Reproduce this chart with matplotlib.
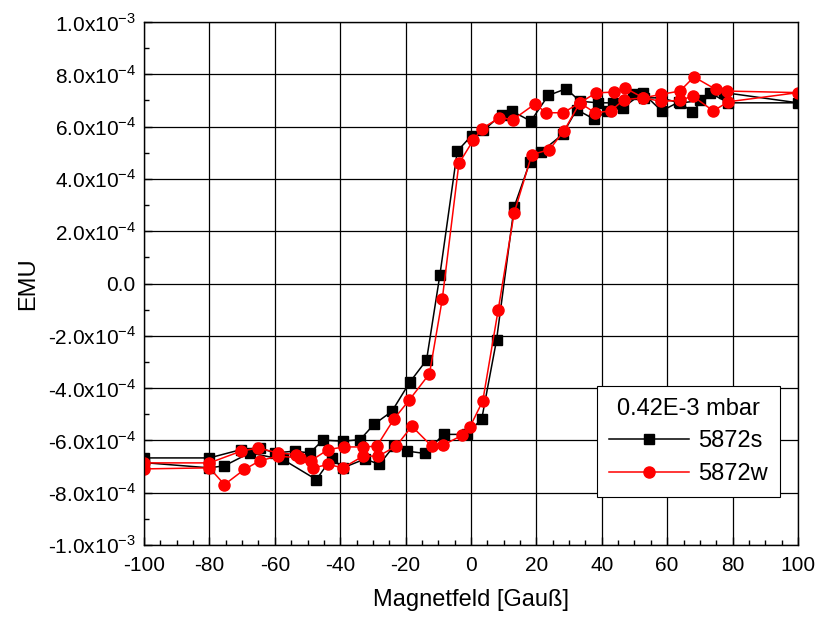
import matplotlib
matplotlib.use('agg')
import matplotlib.pyplot as plt
from matplotlib.ticker import MultipleLocator, FuncFormatter

plt.rcParams['font.family'] = ['Liberation Sans', 'DejaVu Sans']
plt.rcParams['mathtext.fontset'] = 'custom'
plt.rcParams['mathtext.rm'] = 'Liberation Sans'
plt.rcParams['axes.unicode_minus'] = False

# 5872s: lower branch -100 -> 100, then upper branch back to -100 (EMU in 1e-4)
s_x = [-100, -80, -75.4, -67.7, -57.5, -47.3, -42.6, -39.2, -32.4, -28.0, -23.5, -19.5,
       -14.1, -8.4, -1.3, 3.3, 7.8, 13.2, 18.0, 21.3, 28.0, 32.3, 37.6, 42.0, 46.4,
       52.5, 58.3, 63.7, 67.5, 73.1, 78.7, 100,
       77.5, 70.0, 64.0, 58.0, 53.0, 49.6, 43.5, 38.9, 33.3, 29.1, 23.6, 18.3, 12.4,
       9.4, 3.8, 0.2, -4.2, -9.5, -13.6, -18.7, -24.2, -29.7, -33.9, -39.2, -45.3,
       -49.3, -53.9, -60.0, -64.6, -70.3, -80, -100]
s_y = [-6.85, -7.05, -6.97, -6.48, -6.73, -7.50, -6.67, -7.05, -6.71, -6.92, -6.20, -6.41,
       -6.50, -5.77, -5.77, -5.17, -2.17, 2.93, 4.64, 5.02, 5.70, 6.65, 6.29, 6.60, 6.72,
       7.29, 6.60, 6.95, 6.56, 7.29, 6.91, 6.91,
       7.30, 7.00, 6.90, 7.10, 7.10, 7.23, 6.91, 6.91, 6.97, 7.45, 7.19, 6.21, 6.60,
       6.46, 5.86, 5.66, 5.06, 0.34, -2.93, -3.77, -4.89, -5.39, -5.97, -6.03, -5.99,
       -6.48, -6.41, -6.48, -6.29, -6.35, -6.67, -6.67]

# 5872w
w_x = [-100, -80, -75.4, -69.3, -64.6, -59.0, -52.3, -48.3, -43.6, -39.2, -33.0, -28.3,
       -22.9, -18.1, -12.0, -8.7, -2.8, -0.3, 3.6, 8.3, 13.2, 18.6, 24.0, 28.5, 33.3,
       37.9, 42.7, 46.8, 52.7, 58.0, 63.9, 67.8, 74.1, 78.7, 100,
       78.2, 74.9, 68.2, 63.9, 58.0, 52.7, 47.1, 43.7, 38.2, 33.3, 28.2, 22.9, 19.6,
       12.9, 8.7, 3.3, 0.7, -3.7, -8.8, -12.7, -18.9, -23.5, -28.8, -32.9, -38.8,
       -43.7, -49.0, -53.4, -59.0, -65.1, -70.3, -80, -100]
w_y = [-7.09, -7.05, -7.69, -7.11, -6.78, -6.60, -6.67, -7.05, -6.92, -7.05, -6.60, -6.60,
       -6.22, -5.46, -6.22, -6.19, -5.81, -5.48, -4.49, -1.02, 2.70, 4.93, 5.12, 5.85, 6.91,
       6.53, 6.60, 7.03, 7.10, 6.97, 7.00, 7.17, 6.60, 6.95, 7.30,
       7.36, 7.42, 7.90, 7.36, 7.23, 7.10, 7.48, 7.32, 7.29, 6.91, 6.53, 6.53, 6.87,
       6.27, 6.34, 5.92, 5.48, 4.59, -0.61, -3.45, -4.46, -5.17, -6.22, -6.25, -6.25,
       -6.35, -6.78, -6.54, -6.48, -6.29, -6.41, -6.86, -6.86]

s_y = [v * 1e-4 for v in s_y]
w_y = [v * 1e-4 for v in w_y]

fig = plt.figure(figsize=(8.17, 6.22), dpi=100)
ax = fig.add_axes([0.1763, 0.1238, 0.8004, 0.8408])

ax.plot(s_x, s_y, '-s', color='black', lw=1.1, ms=6.5, label='5872s')
ax.plot(w_x, w_y, '-o', color='red', lw=1.1, ms=8, label='5872w')

ax.set_xlim(-100, 100)
ax.set_ylim(-1e-3, 1e-3)
ax.xaxis.set_major_locator(MultipleLocator(20))
ax.xaxis.set_minor_locator(MultipleLocator(5))
ax.yaxis.set_major_locator(MultipleLocator(2e-4))
ax.yaxis.set_minor_locator(MultipleLocator(1e-4))


def yfmt(v, pos):
    if abs(v) < 1e-12:
        return '0.0'
    exp = -3 if abs(v) > 9.9e-4 else -4
    m = v / 10 ** exp
    return '%.1fx10$^{%d}$' % (m, exp)


ax.yaxis.set_major_formatter(FuncFormatter(yfmt))
ax.tick_params(which='both', direction='in', labelsize=15, width=1)
ax.tick_params(which='major', length=6)
ax.tick_params(which='minor', length=3.5)
ax.tick_params(axis='x', pad=8)
ax.tick_params(axis='y', pad=6)
ax.grid(True, which='major', color='black', lw=0.9)
for sp in ax.spines.values():
    sp.set_linewidth(1)

ax.set_xlabel('Magnetfeld [Gauß]', size=17, labelpad=10)
ax.set_ylabel('EMU', size=17, labelpad=6)

leg = ax.legend(loc='lower right', bbox_to_anchor=(0.972, 0.092), fontsize=17,
                title='0.42E-3 mbar', title_fontsize=17, fancybox=False,
                edgecolor='black', framealpha=1, handlelength=3.4,
                borderaxespad=0, labelspacing=0.45, handletextpad=0.4,
                borderpad=0.5)
leg.get_frame().set_linewidth(0.8)

plt.savefig('out.png', dpi=100)
